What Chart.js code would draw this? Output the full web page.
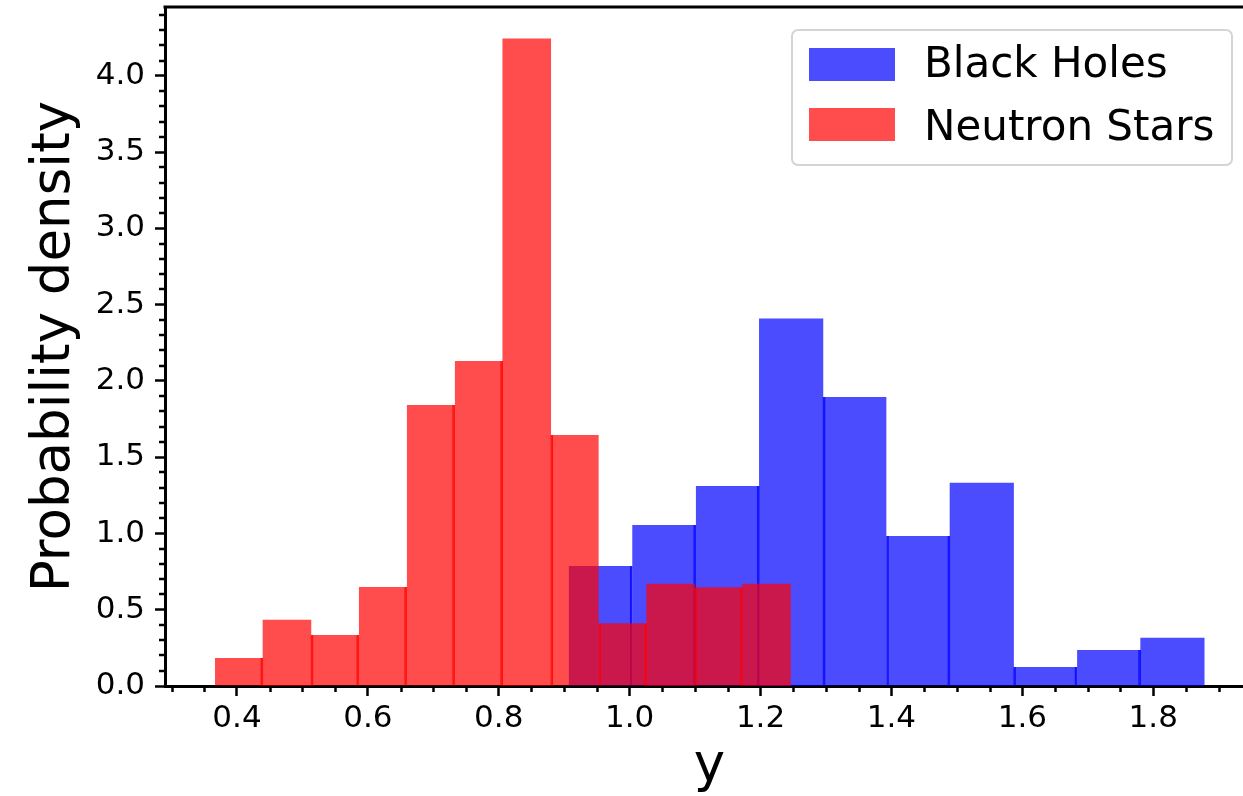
<!DOCTYPE html>
<html>
<head>
<meta charset="utf-8">
<script src="https://cdn.jsdelivr.net/npm/chart.js@4.4.1/dist/chart.umd.min.js"></script>
<style>
   html, body { margin: 0; padding: 0; background: #fff; overflow: hidden; }
   canvas { display: block; }
</style>
</head>
<body>
<canvas id="hist" width="1256" height="796"></canvas>
<script>

/* histogram bins */

let bhEdges = [0.9069, 1.0040, 1.1011, 1.1982, 1.2953, 1.3924, 1.4895, 1.5866, 1.6837, 1.7808, 1.8779];
let bhDensity = [0.787, 1.056, 1.311, 2.407, 1.895, 0.984, 1.331, 0.125, 0.236, 0.315];

let nsEdges = [0.3664, 0.4397, 0.5130, 0.5862, 0.6595, 0.7328, 0.8061, 0.8794, 0.9526, 1.0259, 1.0992, 1.1725, 1.2458];
let nsDensity = [0.184, 0.433, 0.334, 0.649, 1.843, 2.131, 4.243, 1.646, 0.411, 0.669, 0.647, 0.669];

let xTicks = [0.4, 0.6, 0.8, 1.0, 1.2, 1.4, 1.6, 1.8];
let yTicks = [0.0, 0.5, 1.0, 1.5, 2.0, 2.5, 3.0, 3.5, 4.0];

const X_MIN = 0.290;
const X_MAX = 1.954;
const Y_MAX = 4.452;

const FONT = "'DejaVu Sans', sans-serif";


function toPoints(edges, values){

   return values.map(function(v, i){

      return { x: (edges[i] + edges[i + 1]) / 2, y: v };

   });

}

/* matplotlib leaves darker seams where neighbouring bars touch */
function seams(values){

   return function(ctx){

      if(ctx.type !== "data") return 0;

      let i = ctx.dataIndex;
      let h = values[i];

      return {
         left: (i > 0 && values[i - 1] >= h) ? 2 : 0,
         right: (i < values.length - 1 && values[i + 1] > h) ? 2 : 0,
         top: 0,
         bottom: 0
      };

   };

}


const axesDecor = {

   id: "axesDecor",

   afterDraw(chart){

      let c = chart.ctx;
      let area = chart.chartArea;
      let xs = chart.scales.x;
      let ys = chart.scales.y;

      c.save();
      c.strokeStyle = "#000";

      // top and right spines
      c.lineWidth = 3;
      c.beginPath();
      c.moveTo(area.left - 1.5, area.top);
      c.lineTo(area.right, area.top);
      c.lineTo(area.right, area.bottom);
      c.stroke();

      // minor ticks
      c.lineWidth = 2.5;
      c.beginPath();

      for(let k = 6; k <= 39; k++){

         let v = k * 0.05;
         if(k % 4 === 0) continue;
         let px = Math.round(xs.getPixelForValue(v)) + 0.5;
         c.moveTo(px, area.bottom);
         c.lineTo(px, area.bottom + 6);

      }

      for(let k = 1; k <= 44; k++){

         if(k % 5 === 0) continue;
         let py = Math.round(ys.getPixelForValue(k * 0.1));
         c.moveTo(area.left, py);
         c.lineTo(area.left - 6, py);

      }

      c.stroke();

      // legend
      let lx = 792, ly = 30, lw = 440, lh = 135;

      c.beginPath();
      c.roundRect(lx, ly, lw, lh, 6);
      c.fillStyle = "rgba(255,255,255,0.8)";
      c.fill();
      c.lineWidth = 2;
      c.strokeStyle = "#d4d4d4";
      c.stroke();

      c.font = "42px " + FONT;
      c.textBaseline = "alphabetic";
      c.textAlign = "left";

      chart.data.datasets.forEach(function(ds, i){

         c.fillStyle = ds.backgroundColor;
         c.fillRect(809, 48 + i * 60, 86, 33);

         c.fillStyle = "#000";
         c.fillText(ds.label, 924, 77 + i * 63);

      });

      c.restore();

   }

};


let ctx = document.getElementById("hist").getContext("2d");

new Chart(ctx, {

   type: "bar",

   data: {

      datasets: [

         {
            label: "Black Holes",
            data: toPoints(bhEdges, bhDensity),
            xAxisID: "x",
            backgroundColor: "rgba(0,0,255,0.7)",
            borderColor: "rgba(0,0,255,0.9)",
            borderWidth: seams(bhDensity),
            barPercentage: 1,
            categoryPercentage: 1,
            grouped: false,
            order: 1
         },

         {
            label: "Neutron Stars",
            data: toPoints(nsEdges, nsDensity),
            xAxisID: "x2",
            backgroundColor: "rgba(255,0,0,0.7)",
            borderColor: "rgba(255,0,0,0.9)",
            borderWidth: seams(nsDensity),
            barPercentage: 1,
            categoryPercentage: 1,
            grouped: false,
            order: 0
         }

      ]

   },

   options: {

      responsive: false,
      animation: false,
      events: [],

      layout: {
         padding: { top: 7, right: 2, left: 0, bottom: 0 }
      },

      plugins: {
         legend: { display: false },
         tooltip: { enabled: false }
      },

      scales: {

         x: {
            type: "linear",
            position: "bottom",
            min: X_MIN,
            max: X_MAX,
            offset: false,
            z: 1,
            grid: {
               offset: false,
               drawOnChartArea: false,
               drawTicks: true,
               tickLength: 10,
               tickWidth: 2.5,
               tickColor: "#000"
            },
            border: { display: true, color: "#000", width: 3 },
            afterBuildTicks: function(scale){
               scale.ticks = xTicks.map(v => ({ value: v }));
            },
            afterFit: function(scale){
               scale.height = 110;
               scale.paddingLeft = 0;
               scale.paddingRight = 0;
            },
            ticks: {
               autoSkip: false,
               maxRotation: 0,
               padding: 4,
               color: "#000",
               font: { family: FONT, size: 31 },
               callback: v => v.toFixed(1)
            },
            title: {
               display: true,
               text: "y",
               color: "#000",
               font: { family: FONT, size: 53, lineHeight: 1 },
               padding: { top: 0, bottom: 2 }
            }
         },

         x2: {
            type: "linear",
            display: false,
            min: X_MIN,
            max: X_MAX,
            offset: false,
            grid: { offset: false },
            ticks: { display: false, stepSize: 1 }
         },

         y: {
            type: "linear",
            position: "left",
            min: 0,
            max: Y_MAX,
            z: 1,
            grid: {
               drawOnChartArea: false,
               drawTicks: true,
               tickLength: 10,
               tickWidth: 2.5,
               tickColor: "#000"
            },
            border: { display: true, color: "#000", width: 3 },
            afterBuildTicks: function(scale){
               scale.ticks = yTicks.map(v => ({ value: v }));
            },
            afterFit: function(scale){
               scale.width = 165;
               scale.paddingTop = 0;
               scale.paddingBottom = 0;
            },
            ticks: {
               padding: 10,
               color: "#000",
               font: { family: FONT, size: 31 },
               callback: v => v.toFixed(1)
            },
            title: {
               display: true,
               text: "Probability density",
               color: "#000",
               font: { family: FONT, size: 53, lineHeight: 1 },
               padding: { top: 29, bottom: 0 }
            }
         }

      }

   },

   plugins: [axesDecor]

});

</script>
</body>
</html>
